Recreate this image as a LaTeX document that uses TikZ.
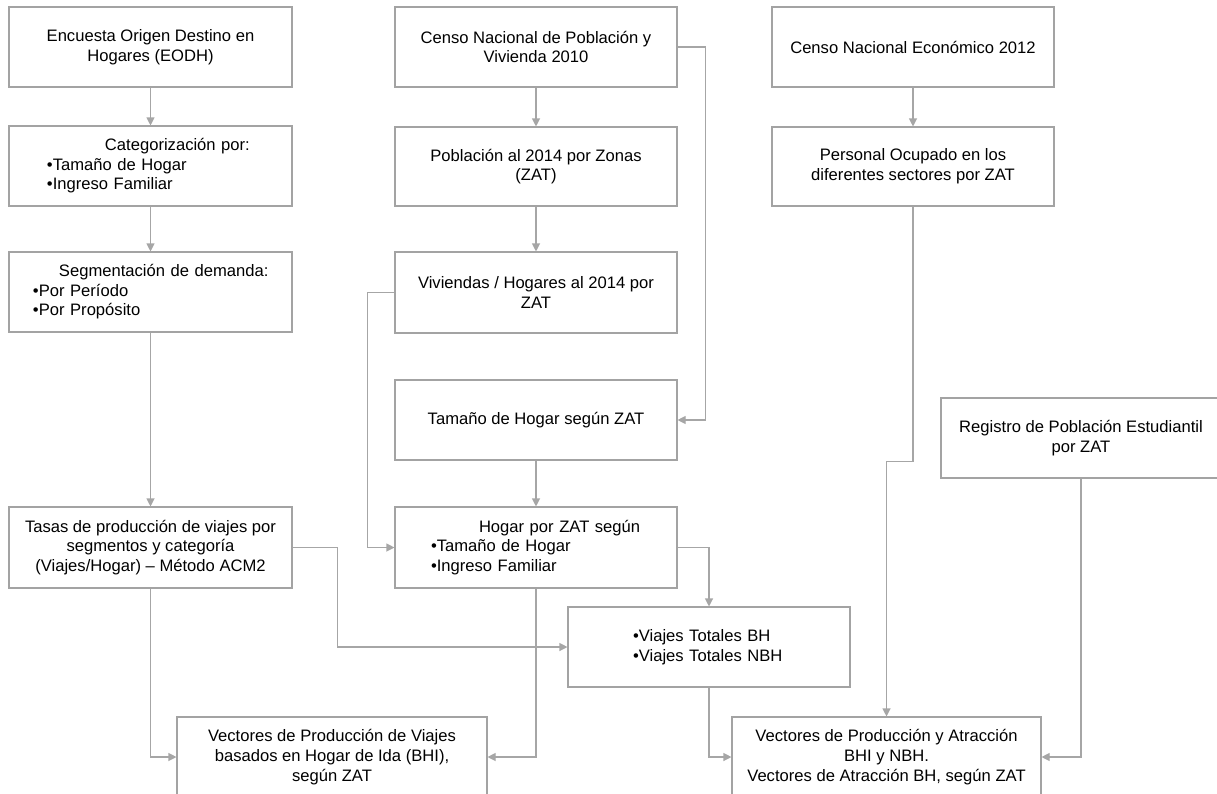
\documentclass[tikz,border=0pt]{standalone}
\usepackage{fontspec}
\setmainfont{Liberation Sans}
\usetikzlibrary{arrows.meta}
\definecolor{linegray}{HTML}{A6A6A6}
\definecolor{boxgray}{HTML}{A3A3A3}
\begin{document}
\begin{tikzpicture}[x=1pt,y=-1pt,
  box/.style={draw=boxgray, line width=1.1pt, fill=white, inner sep=0pt,
    minimum height=80pt, font=\fontsize{16.6}{19.6}\selectfont},
  ctr/.style={box, align=center},
  lft/.style={box, align=left},
  conn/.style={draw=linegray, line width=1.1pt, -{Triangle[length=8pt,width=8pt]}},
  plain/.style={draw=linegray, line width=1.1pt}
]
\useasboundingbox (0,0) rectangle (1217,793);
\clip (0,0) rectangle (1217,793);

% left column
\node[ctr, minimum width=283pt] (A) at (150.5,47) {Encuesta Origen Destino en\\Hogares (EODH)};
\node[lft, minimum width=283pt, text width=283pt] (B) at (150.5,166)
  {\hspace*{96pt}Categorización por:\\\hspace*{38pt}•Tamaño de Hogar\\\hspace*{38pt}•Ingreso Familiar};
\node[lft, minimum width=283pt, text width=283pt] (C) at (150.5,292)
  {\hspace*{50pt}Segmentación de demanda:\\\hspace*{24pt}•Por Período\\\hspace*{24pt}•Por Propósito};
\node[ctr, minimum width=283pt, minimum height=81pt] (D) at (150.5,547.5)
  {Tasas de producción de viajes por\\segmentos y categoría\\(Viajes/Hogar) – Método ACM2};
\node[ctr, minimum width=310pt] (E) at (332,757)
  {Vectores de Producción de Viajes\\basados en Hogar de Ida (BHI),\\según ZAT};

% middle column
\node[ctr, minimum width=282pt] (F) at (536,47) {Censo Nacional de Población y\\Vivienda 2010};
\node[ctr, minimum width=282pt, minimum height=79pt] (G) at (536,166.5) {Población al 2014 por Zonas\\(ZAT)};
\node[ctr, minimum width=282pt, minimum height=81pt] (H) at (536,292.5) {Viviendas / Hogares al 2014 por\\ZAT};
\node[ctr, minimum width=282pt] (I) at (536,420) {Tamaño de Hogar según ZAT};
\node[lft, minimum width=282pt, text width=282pt, minimum height=81pt] (J) at (536,547.5)
  {\hspace*{84pt}Hogar por ZAT según\\\hspace*{36pt}•Tamaño de Hogar\\\hspace*{36pt}•Ingreso Familiar};
\node[lft, minimum width=282pt, text width=282pt] (K) at (709,647)
  {\hspace*{65pt}•Viajes Totales BH\\\hspace*{65pt}•Viajes Totales NBH};
\node[ctr, minimum width=309pt] (L) at (886.5,757)
  {Vectores de Producción y Atracción\\BHI y NBH.\\Vectores de Atracción BH, según ZAT};

% right column
\node[ctr, minimum width=282pt] (M) at (913,47) {Censo Nacional Económico 2012};
\node[ctr, minimum width=282pt, minimum height=79pt] (N) at (913,166.5) {Personal Ocupado en los\\diferentes sectores por ZAT};
\node[ctr, minimum width=280pt] (O) at (1081,438) {Registro de Población Estudiantil\\por ZAT};

% connectors
\draw[conn] (A.south) -- (B.north);
\draw[conn] (B.south) -- (C.north);
\draw[conn] (C.south) -- (D.north);
\draw[conn] (D.south) |- (E.west);
\draw[conn] (D.east) -- ++(45,0) |- (K.west);

\draw[conn] (F.south) -- (G.north);
\draw[conn] (G.south) -- (H.north);
\draw[conn] (F.east) -- ++(28,0) |- (I.east);
\draw[conn] (H.west) -- ++(-27,0) |- (J.west);
\draw[conn] (I.south) -- (J.north);
\draw[conn] (J.south) |- (E.east);
\draw[conn] (J.east) -| (K.north);
\draw[conn] (K.south) |- (L.west);

\draw[conn] (M.south) -- (N.north);
\draw[conn] (N.south) -- ++(0,255) -| (L.north);
\draw[conn] (O.south) |- (L.east);
\end{tikzpicture}
\end{document}
